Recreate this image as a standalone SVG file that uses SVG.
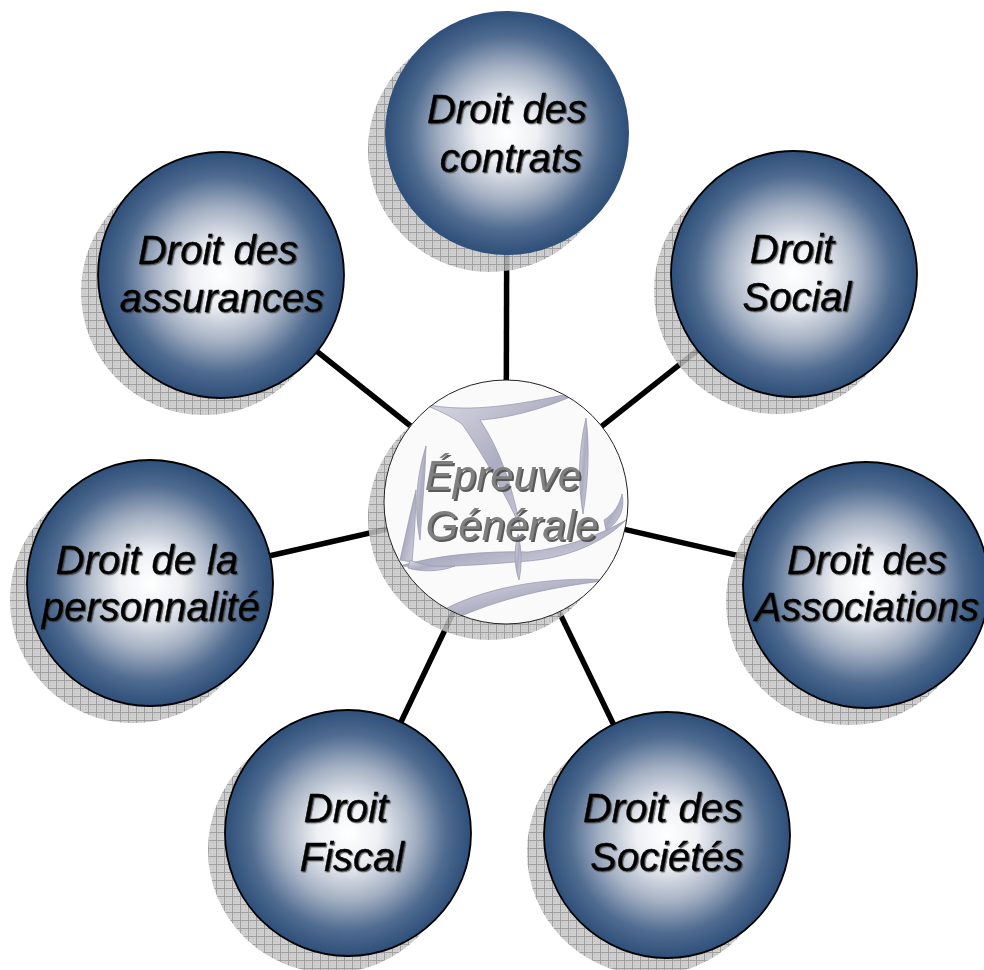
<svg xmlns="http://www.w3.org/2000/svg" width="984" height="970" viewBox="0 0 984 970">
<defs>
  <radialGradient id="ball" cx="50%" cy="50%" r="50%">
    <stop offset="0" stop-color="#ffffff"/>
    <stop offset="0.25" stop-color="#eef0f4"/>
    <stop offset="0.55" stop-color="#a3afc2"/>
    <stop offset="0.8" stop-color="#4f6b90"/>
    <stop offset="1" stop-color="#2e4f79"/>
  </radialGradient>
  <pattern id="hatch" width="8" height="8" patternUnits="userSpaceOnUse">
    <rect width="8" height="8" fill="#c6c6c6"/>
    <path d="M0 0.5H8M0.5 0V8" stroke="#8e8e8e" stroke-width="1"/>
    <path d="M2 2h1v1h-1zM5 5h1v1h-1zM2 5h1v1h-1zM5 2h1v1h-1z" fill="#b0b0b0"/>
  </pattern>
  <linearGradient id="swoosh" x1="0" y1="0" x2="1" y2="1">
    <stop offset="0" stop-color="#dcdce6"/>
    <stop offset="0.5" stop-color="#adadc2"/>
    <stop offset="1" stop-color="#d6d6e2"/>
  </linearGradient>
  <filter id="tshadow" x="-10%" y="-20%" width="120%" height="140%">
    <feDropShadow dx="1.2" dy="1.2" stdDeviation="0.5" flood-color="#333" flood-opacity="0.75"/>
  </filter>
  <filter id="cshadow" x="-10%" y="-20%" width="120%" height="140%">
    <feDropShadow dx="2" dy="2" stdDeviation="0.4" flood-color="#4a4a4a" flood-opacity="0.9"/>
  </filter>
  <clipPath id="centerClip"><circle cx="506" cy="502" r="122"/></clipPath>
</defs>
<style>
  .conn { stroke: #000; stroke-width: 5.5; fill: none; }
  .shadow { fill: url(#hatch); opacity: 0.85; }
  .ball { fill: url(#ball); stroke: #000; stroke-width: 1.8; }
  .label { font-family: "Liberation Sans", Arial, sans-serif; font-style: italic; font-size: 40px; fill: #000; stroke: #000; stroke-width: 0.4; text-anchor: middle; filter: url(#tshadow); }
  .clabel { font-family: "Liberation Sans", Arial, sans-serif; font-style: italic; font-size: 42px; fill: #808080; text-anchor: middle; filter: url(#cshadow); }
</style>
<rect width="984" height="970" fill="#ffffff"/>

<g id="connectors">
  <line class="conn" x1="506" y1="502" x2="507" y2="133"/>
  <line class="conn" x1="506" y1="502" x2="794" y2="274"/>
  <line class="conn" x1="506" y1="502" x2="866" y2="585"/>
  <line class="conn" x1="506" y1="502" x2="667" y2="835"/>
  <line class="conn" x1="506" y1="502" x2="348" y2="833"/>
  <line class="conn" x1="506" y1="502" x2="150" y2="583"/>
  <line class="conn" x1="506" y1="502" x2="221" y2="275"/>
</g>

<g id="node-contrats">
  <circle class="shadow" cx="490" cy="150" r="122"/>
  <circle cx="507" cy="133" r="122" fill="url(#ball)"/>
  <text class="label" x="507" y="123">Droit des</text>
  <text class="label" x="511" y="172">contrats</text>
</g>

<g id="node-social">
  <circle class="shadow" cx="777" cy="291" r="123"/>
  <circle class="ball" cx="794" cy="274" r="123"/>
  <text class="label" x="792" y="263">Droit</text>
  <text class="label" x="797" y="311">Social</text>
</g>

<g id="node-assurances">
  <circle class="shadow" cx="204" cy="292" r="123"/>
  <circle class="ball" cx="221" cy="275" r="123"/>
  <text class="label" x="218" y="264">Droit des</text>
  <text class="label" x="222" y="312">assurances</text>
</g>

<g id="node-personnalite">
  <circle class="shadow" cx="133" cy="600" r="123"/>
  <circle class="ball" cx="150" cy="583" r="123"/>
  <text class="label" x="147" y="574">Droit de la</text>
  <text class="label" x="151" y="621">personnalité</text>
</g>

<g id="node-associations">
  <circle class="shadow" cx="849" cy="602" r="123"/>
  <circle class="ball" cx="866" cy="585" r="123"/>
  <text class="label" x="867" y="574">Droit des</text>
  <text class="label" x="867" y="621">Associations</text>
</g>

<g id="node-fiscal">
  <circle class="shadow" cx="331" cy="850" r="123"/>
  <circle class="ball" cx="348" cy="833" r="123"/>
  <text class="label" x="346" y="822">Droit</text>
  <text class="label" x="352" y="871">Fiscal</text>
</g>

<g id="node-societes">
  <circle class="shadow" cx="650" cy="852" r="123"/>
  <circle class="ball" cx="667" cy="835" r="123"/>
  <text class="label" x="663" y="822">Droit des</text>
  <text class="label" x="667" y="871">Sociétés</text>
</g>

<g id="node-center">
  <circle class="shadow" cx="490" cy="518" r="122"/>
  <circle cx="506" cy="502" r="122" fill="#fafafa"/>
  <g clip-path="url(#centerClip)" fill="url(#swoosh)" stroke="#9c9cb2" stroke-width="0.8">
    <path d="M424 404 C470 414 525 404 586 390 C548 408 510 418 480 420 C500 450 512 485 520 526 C504 492 484 456 462 424 C448 414 436 410 424 404 Z"/>
    <path d="M586 418 C590 450 588 482 583 514 C578 484 578 452 586 418 Z"/>
    <path d="M426 446 C425 478 422 510 420 540 C414 510 416 478 426 446 Z"/>
    <path d="M400 566 C440 554 490 551 528 552 C565 548 598 536 626 520 C604 542 568 558 528 561 C490 564 445 568 400 566 Z"/>
    <path d="M604 520 C614 514 620 504 622 494 C625 508 620 522 606 530 Z"/>
    <path d="M436 614 C480 588 545 576 612 580 C555 586 498 598 448 622 Z"/>
    <path d="M518 534 C522 550 522 566 519 580 C514 566 514 550 518 534 Z"/>
    <path d="M400 560 C406 534 410 514 416 490 C416 514 414 538 412 562 Z"/>
    <path d="M410 560 C420 565 440 568 455 566 C440 572 420 572 408 568 Z"/>
  </g>
  <circle cx="506" cy="502" r="122" fill="none" stroke="#222" stroke-width="1"/>
  <text class="clabel" x="503" y="490">Épreuve</text>
  <text class="clabel" x="512" y="540">Générale</text>
</g>
</svg>
